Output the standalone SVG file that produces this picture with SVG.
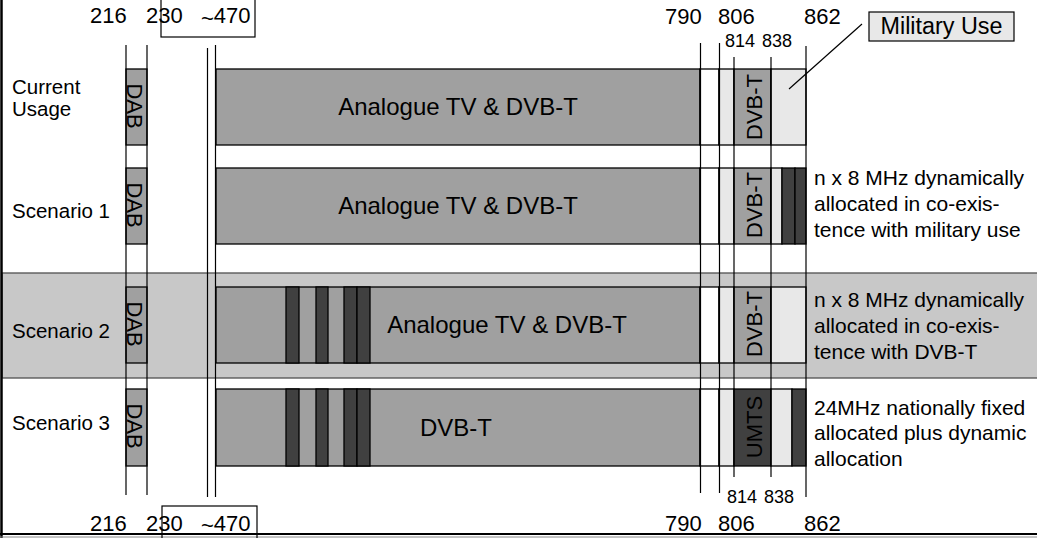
<svg xmlns="http://www.w3.org/2000/svg" width="1037" height="538" viewBox="0 0 1037 538">
<style>
text{font-family:"Liberation Sans",Arial,Helvetica,sans-serif;fill:#000}
.lbl{font-size:22px}
.sm{font-size:18px}
.row{font-size:20.5px}
.desc{font-size:21px}
.bar{font-size:24px}
.rot{font-size:22px}
.mid{fill:#a0a0a0;stroke:#000;stroke-width:1.3}
.dark{fill:#404040;stroke:#000;stroke-width:1.3}
.light{fill:#e8e8e8;stroke:#000;stroke-width:1.3}
.white{fill:#fff;stroke:#000;stroke-width:1.3}
.tick{stroke:#000;stroke-width:1.2;fill:none}
.box{fill:none;stroke:#000;stroke-width:1.2}
</style>
<rect x="0" y="0" width="1037" height="538" fill="#fff"/>
<g id="band-scenario2">
<rect x="2" y="273" width="1040" height="105" fill="#c8c8c8" stroke="#505050" stroke-width="1.3"/>
</g>
<g id="row-current">
<text class="row" x="12" y="94" font-size="20">Current</text>
<text class="row" x="12" y="116" font-size="20">Usage</text>
<rect class="mid" x="126" y="69" width="21" height="76"/>
<text class="rot" transform="translate(127,106) rotate(90)" text-anchor="middle">DAB</text>
<rect class="mid" x="216" y="69" width="484" height="76"/>
<text class="bar" x="458" y="115" text-anchor="middle">Analogue TV &amp; DVB-T</text>
<rect class="white" x="700" y="69" width="19" height="76"/>
<rect class="light" x="719" y="69" width="15" height="76"/>
<rect class="mid" x="734" y="69" width="37" height="76"/>
<text class="rot" transform="translate(762,107) rotate(-90)" text-anchor="middle">DVB-T</text>
<rect class="light" x="771" y="69" width="35" height="76"/>
</g>
<g id="military-use">
<rect x="869" y="12" width="145" height="29" fill="#e8e8e8" stroke="#000" stroke-width="1.2"/>
<text x="941.5" y="34" text-anchor="middle" font-size="23" textLength="122" lengthAdjust="spacingAndGlyphs">Military Use</text>
</g>
<g id="row-scenario1">
<text class="row" x="12" y="218">Scenario 1</text>
<rect class="mid" x="126" y="168" width="21" height="76"/>
<text class="rot" transform="translate(127,205) rotate(90)" text-anchor="middle">DAB</text>
<rect class="mid" x="216" y="168" width="484" height="76"/>
<text class="bar" x="458" y="214" text-anchor="middle">Analogue TV &amp; DVB-T</text>
<rect class="white" x="700" y="168" width="19" height="76"/>
<rect class="light" x="719" y="168" width="15" height="76"/>
<rect class="mid" x="734" y="168" width="37" height="76"/>
<text class="rot" transform="translate(762,205) rotate(-90)" text-anchor="middle">DVB-T</text>
<rect class="light" x="771" y="168" width="11" height="76"/>
<rect class="dark" x="782" y="168" width="13" height="76"/>
<rect class="dark" x="795" y="168" width="11" height="76"/>
<text class="desc" x="814" y="185">n x 8 MHz dynamically</text>
<text class="desc" x="814" y="211">allocated in co-exis-</text>
<text class="desc" x="814" y="237">tence with military use</text>
</g>
<g id="row-scenario2">
<text class="row" x="12" y="338">Scenario 2</text>
<rect class="mid" x="126" y="287" width="21" height="76"/>
<text class="rot" transform="translate(127,324) rotate(90)" text-anchor="middle">DAB</text>
<rect class="mid" x="216" y="287" width="484" height="76"/>
<rect class="dark" x="286" y="287" width="13" height="76"/>
<rect class="dark" x="316" y="287" width="12" height="76"/>
<rect class="dark" x="344" y="287" width="13" height="76"/>
<rect class="dark" x="357" y="287" width="13" height="76"/>
<text class="bar" x="507" y="333" text-anchor="middle">Analogue TV &amp; DVB-T</text>
<rect class="white" x="700" y="287" width="19" height="76"/>
<rect class="light" x="719" y="287" width="15" height="76"/>
<rect class="mid" x="734" y="287" width="37" height="76"/>
<text class="rot" transform="translate(762,324) rotate(-90)" text-anchor="middle">DVB-T</text>
<rect class="light" x="771" y="287" width="35" height="76"/>
<text class="desc" x="814" y="307">n x 8 MHz dynamically</text>
<text class="desc" x="814" y="333">allocated in co-exis-</text>
<text class="desc" x="814" y="359">tence with DVB-T</text>
</g>
<g id="row-scenario3">
<text class="row" x="12" y="430">Scenario 3</text>
<rect class="mid" x="126" y="389" width="21" height="77"/>
<text class="rot" transform="translate(127,426) rotate(90)" text-anchor="middle">DAB</text>
<rect class="mid" x="216" y="389" width="484" height="77"/>
<rect class="dark" x="286" y="389" width="13" height="77"/>
<rect class="dark" x="316" y="389" width="12" height="77"/>
<rect class="dark" x="344" y="389" width="13" height="77"/>
<rect class="dark" x="357" y="389" width="13" height="77"/>
<text class="bar" x="456" y="436" text-anchor="middle">DVB-T</text>
<rect class="white" x="700" y="389" width="19" height="77"/>
<rect class="light" x="719" y="389" width="15" height="77"/>
<rect class="dark" x="734" y="389" width="37" height="77"/>
<text class="rot" transform="translate(762,427) rotate(-90)" text-anchor="middle">UMTS</text>
<rect class="light" x="771" y="389" width="21" height="77"/>
<rect class="dark" x="792" y="389" width="14" height="77"/>
<text class="desc" x="814" y="415">24MHz nationally fixed</text>
<text class="desc" x="814" y="440">allocated plus dynamic</text>
<text class="desc" x="814" y="466">allocation</text>
</g>
<g id="connectors">
<line class="tick" x1="126" y1="45" x2="126" y2="495"/>
<line class="tick" x1="147" y1="45" x2="147" y2="495"/>
<line class="tick" x1="207.5" y1="48" x2="207.5" y2="497"/>
<line class="tick" x1="215.5" y1="45" x2="215.5" y2="497"/>
<line class="tick" x1="700.5" y1="43" x2="700.5" y2="493"/>
<line class="tick" x1="719.5" y1="43" x2="719.5" y2="493"/>
<line class="tick" x1="734" y1="57" x2="734" y2="477"/>
<line class="tick" x1="771" y1="57" x2="771" y2="477"/>
<line class="tick" x1="806" y1="46" x2="806" y2="497"/>
<line class="tick" x1="789" y1="89" x2="862" y2="24"/>
<line x1="1.5" y1="0" x2="1.5" y2="538" stroke="#000" stroke-width="2.5"/>
<line x1="0" y1="534" x2="1037" y2="534" stroke="#000" stroke-width="2"/>
<line x1="0" y1="537" x2="1037" y2="537" stroke="#888" stroke-width="1"/>
</g>
<g id="scale-top">
<rect class="box" x="161" y="-1" width="94" height="38"/>
<text class="lbl" x="90" y="23">216</text>
<text class="lbl" x="146" y="23">230</text>
<text class="lbl" x="201" y="23"><tspan dy="3">~</tspan><tspan dy="-3">470</tspan></text>
<text class="lbl" x="665" y="24">790</text>
<text class="lbl" x="718" y="24">806</text>
<text class="lbl" x="804" y="24">862</text>
<text class="sm" x="725" y="47">814</text>
<text class="sm" x="762" y="47">838</text>
</g>
<g id="scale-bottom">
<rect class="box" x="162" y="506" width="95" height="40"/>
<text class="lbl" x="90" y="531">216</text>
<text class="lbl" x="146" y="531">230</text>
<text class="lbl" x="201" y="531"><tspan dy="2">~</tspan><tspan dy="-2">470</tspan></text>
<text class="lbl" x="665" y="531">790</text>
<text class="lbl" x="718" y="531">806</text>
<text class="lbl" x="804" y="531">862</text>
<text class="sm" x="727" y="503">814</text>
<text class="sm" x="764" y="503">838</text>
</g>
</svg>
